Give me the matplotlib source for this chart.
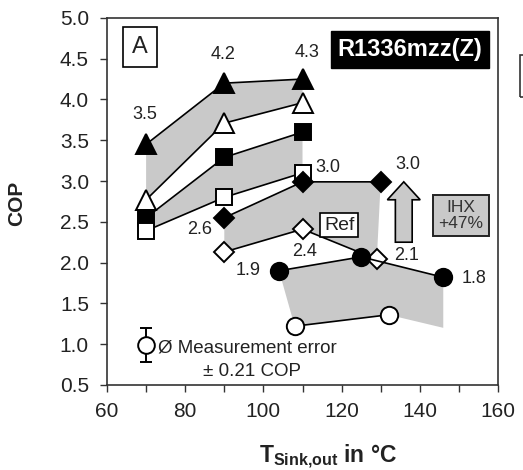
import matplotlib
matplotlib.use('Agg')
import matplotlib.pyplot as plt
from matplotlib.patches import FancyArrow, Polygon, Rectangle
import numpy as np

plt.rcParams['font.family'] = ['Liberation Sans', 'DejaVu Sans']
plt.rcParams['mathtext.fontset'] = 'custom'
plt.rcParams['mathtext.rm'] = 'Liberation Sans'
plt.rcParams['mathtext.bf'] = 'Liberation Sans:bold'

# data
x_tri = [70, 90, 110]
cop_tri_black = [3.45, 4.20, 4.25]
cop_tri_open = [2.77, 3.71, 3.96]
x_sq = [70, 90, 110]
cop_sq_black = [2.55, 3.29, 3.60]
cop_sq_open = [2.39, 2.80, 3.10]
x_dia_black = [90, 110, 130]
cop_dia_black = [2.55, 2.99, 2.99]
x_dia_open = [90, 110, 129]
cop_dia_open = [2.13, 2.41, 2.04]
x_circ_black = [104, 125, 146]
cop_circ_black = [1.90, 2.07, 1.82]
x_circ_open = [108, 132]
cop_circ_open = [1.22, 1.36]
shade_corner = (146, 1.20)

labels = ['3.5', '4.2', '4.3', '3.0', '2.6', '3.0', '2.4', '2.1', '1.9', '1.8']
label_x = [69.7, 89.7, 111.2, 116.5, 83.8, 137.0, 110.6, 136.7, 96.0, 154.0]
label_y = [3.81, 4.55, 4.58, 3.16, 2.40, 3.20, 2.13, 2.09, 1.90, 1.80]

err_x, err_y, err_val = 70, 0.99, 0.21

gray = '#c9c9c9'
txt = '#222222'

fig = plt.figure(figsize=(5.23, 4.70), dpi=100)
ax = fig.add_axes([0.2046, 0.181, 0.7476, 0.7809])

# shaded bands
def band(xa, ya, xb, yb):
    pts = list(zip(xa, ya)) + list(zip(xb, yb))[::-1]
    ax.add_patch(Polygon(pts, closed=True, fc=gray, ec='none', zorder=1))

band(x_tri, cop_tri_black, x_tri, cop_tri_open)
band(x_sq, cop_sq_black, x_sq, cop_sq_open)
band(x_dia_black, cop_dia_black, x_dia_open, cop_dia_open)
band(x_circ_black + [shade_corner[0]], cop_circ_black + [shade_corner[1]],
     x_circ_open, cop_circ_open)

lk = dict(color='black', lw=1.2, mec='black', mew=1.4, zorder=3)
ax.plot(x_tri, cop_tri_black, marker='^', ms=15, mfc='black', **lk)
ax.plot(x_tri, cop_tri_open, marker='^', ms=15, mfc='white', **lk)
ax.plot(x_sq, cop_sq_black, marker='s', ms=12, mfc='black', **lk)
ax.plot(x_sq, cop_sq_open, marker='s', ms=12, mfc='white', **lk)
ax.plot(x_dia_open, cop_dia_open, marker='D', ms=10.5, mfc='white', **lk)
ax.plot(x_dia_black, cop_dia_black, marker='D', ms=10.5, mfc='black', **lk)
ax.plot(x_circ_black, cop_circ_black, marker='o', ms=12.5, mfc='black', **lk)
ax.plot(x_circ_open, cop_circ_open, marker='o', ms=12.5, mfc='white', **lk)

for s, lx, ly in zip(labels, label_x, label_y):
    ax.text(lx, ly, s, ha='center', va='center', fontsize=13, color=txt, zorder=5)

# IHX arrow
ax.add_patch(FancyArrow(135.9, 2.25, 0, 0.74, width=4.3, head_width=8.4,
                        head_length=0.22, length_includes_head=True,
                        fc=gray, ec='black', lw=1.2, zorder=4))

ax.text(68.4, 4.64, 'A', ha='center', va='center', fontsize=17, color=txt,
        bbox=dict(boxstyle='square,pad=0.38', fc='white', ec='black', lw=1.2), zorder=6)
ax.text(137.5, 4.61, 'R1336mzz(Z)', ha='center', va='center', fontsize=17,
        fontweight='bold', color='white',
        bbox=dict(boxstyle='square,pad=0.3', fc='black', ec='black'), zorder=6)
ax.text(119.4, 2.46, 'Ref', ha='center', va='center', fontsize=14, color=txt,
        bbox=dict(boxstyle='square,pad=0.2', fc='white', ec='black', lw=1.2), zorder=6)
ax.text(150.5, 2.58, 'IHX\n+47%', ha='center', va='center', fontsize=12.5,
        color='#333333', linespacing=1.05,
        bbox=dict(boxstyle='square,pad=0.3', fc=gray, ec='#222222', lw=1.4), zorder=6)

# measurement error note
ax.errorbar([err_x], [err_y], yerr=[err_val], fmt='o', ms=12, mfc='white',
            mec='black', mew=1.4, ecolor='black', elinewidth=1.4, capsize=4, zorder=5)
ax.text(73, 0.95, 'Ø Measurement error', ha='left', va='center', fontsize=13.5, color=txt)
ax.text(97, 0.66, '± 0.21 COP', ha='center', va='center', fontsize=13.5, color=txt)

ax.set_xlim(60, 160)
ax.set_ylim(0.5, 5.0)
ax.set_xticks(np.arange(60, 161, 20))
ax.set_xticks(np.arange(60, 161, 10), minor=True)
ax.set_yticks(np.arange(0.5, 5.01, 0.5))
ax.set_yticklabels(['%.1f' % v for v in np.arange(0.5, 5.01, 0.5)])
ax.tick_params(axis='both', which='both', direction='out', length=5, width=1,
               labelsize=15, labelcolor=txt, color='#333333')
ax.tick_params(axis='y', pad=8)
ax.tick_params(axis='x', which='major', pad=7)
for sp in ax.spines.values():
    sp.set_color('#333333')
    sp.set_linewidth(1.2)

fig.text(17 / 523, 1 - 203 / 470, 'COP', rotation=90, ha='center', va='center',
         fontsize=15, fontweight='bold', color=txt)
fig.text(328 / 523, 1 - 463 / 470, r'$\mathbf{T}_{\mathbf{Sink{,}out}}$ in °C',
         ha='center', va='baseline', fontsize=16.5, fontweight='bold', color=txt)

# edge of the neighbouring panel box
fig.patches.append(Rectangle((520 / 523, 1 - 97 / 470), 0.05, 42 / 470,
                             transform=fig.transFigure, fill=False,
                             ec='#333333', lw=1.2))

fig.savefig('out.png', dpi=100)
